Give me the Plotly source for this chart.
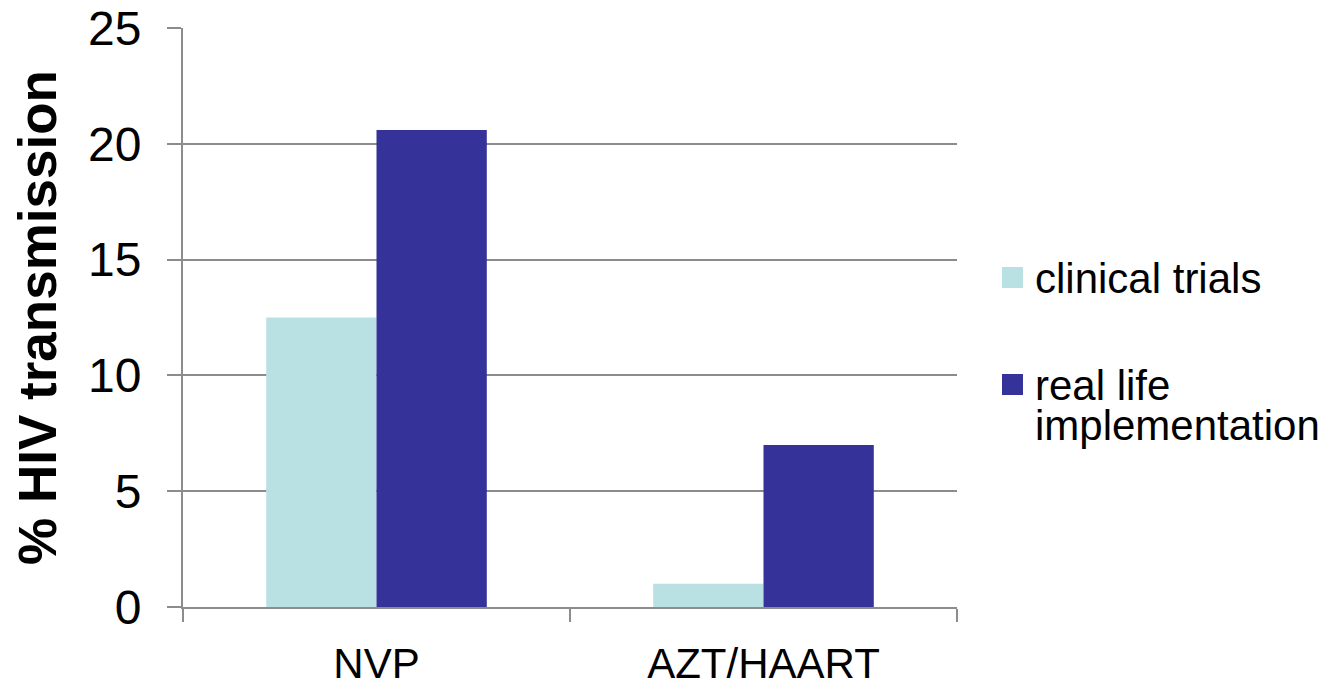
import plotly.graph_objects as go

categories = ["NVP", "AZT/HAART"]
series_names = ["clinical trials", "real life implementation"]
clinical_trials = [12.5, 1.0]
real_life = [20.6, 7.0]
y_ticks = [0, 5, 10, 15, 20, 25]

FONT = "Liberation Sans, Arial, sans-serif"
GRID = "#8c8c8c"
COLORS = ["#b9e0e3", "#353399"]


def px_x(x):
    return (x - 183) / 774


def px_y(y):
    return (607 - y) / 579


fig = go.Figure()
for name, values, color in zip(series_names, [clinical_trials, real_life], COLORS):
    fig.add_trace(go.Bar(
        x=categories, y=values, name=name,
        marker=dict(color=color, line=dict(width=0)), showlegend=False,
    ))

# Legend on the right: coloured square swatches with labels (second one wrapped
# onto two tightly spaced lines, each line a box of its own)
legend_squares = [(COLORS[0], 267), (COLORS[1], 374)]
for color, sq_top in legend_squares:
    fig.add_shape(
        type="rect", xref="paper", yref="paper",
        x0=px_x(1002), x1=px_x(1023), y0=px_y(sq_top), y1=px_y(sq_top + 21),
        fillcolor=color, line=dict(width=0),
    )

legend_lines = [
    ("clinical trials", 254, None),
    ("real life", 361, 39),
    ("implementation", 401, None),
]
for text, top, box_h in legend_lines:
    fig.add_annotation(
        xref="paper", yref="paper", x=px_x(1034), y=px_y(top),
        xanchor="left", yanchor="top", valign="top", showarrow=False,
        height=box_h, borderpad=0,
        text=text, font=dict(size=42, family=FONT, color="black"),
    )

fig.update_layout(
    width=1330, height=688,
    margin=dict(l=183, r=373, t=28, b=81),
    paper_bgcolor="white", plot_bgcolor="white",
    barmode="group", bargap=0.43, bargroupgap=0,
    font=dict(family=FONT, color="black", size=42),
    showlegend=False,
)
fig.update_xaxes(
    automargin=False,
    showline=True, linecolor=GRID, linewidth=2,
    ticks="outside", tickson="boundaries", ticklen=13, tickcolor=GRID, tickwidth=2,
    tickfont=dict(size=42), ticklabelstandoff=19,
)
fig.update_yaxes(
    automargin=False,
    range=[0, 25], tickvals=y_ticks,
    showline=True, linecolor=GRID, linewidth=2,
    showgrid=True, gridcolor=GRID, gridwidth=2,
    ticks="outside", ticklen=14, tickcolor=GRID, tickwidth=2,
    tickfont=dict(size=48), ticklabelstandoff=16,
    zeroline=False,
    title=dict(text="<b>% HIV transmission</b>", font=dict(size=53), standoff=14),
)

fig.write_html("out.html")
